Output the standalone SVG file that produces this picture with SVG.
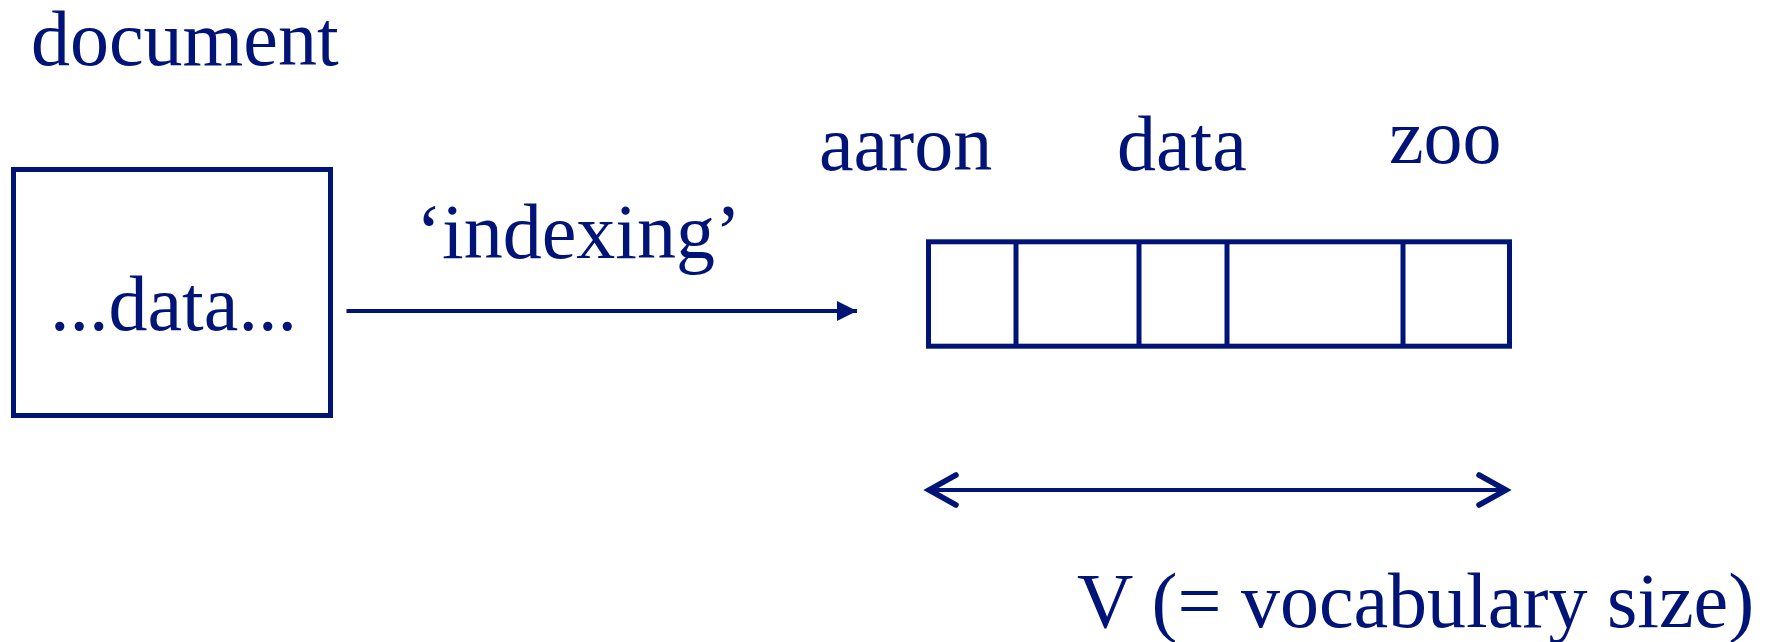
<svg xmlns="http://www.w3.org/2000/svg" width="1780" height="642" viewBox="0 0 1780 642">
  <style>
    .t { font-family: "Liberation Serif", "Times New Roman", serif; font-size: 78px; fill: #001478; }
    .box { fill: #ffffff; stroke: #001478; stroke-width: 5; }
    .ln { stroke: #001478; stroke-width: 4; fill: none; }
    .chev { stroke: #001478; stroke-width: 5.5; fill: none; stroke-linecap: round; stroke-linejoin: miter; }
  </style>
  <defs>
    <marker id="tri" markerUnits="userSpaceOnUse" markerWidth="20" markerHeight="20" refX="20" refY="10" orient="auto">
      <path d="M0,0 L20,10 L0,20 Z" fill="#001478"/>
    </marker>
  </defs>
  <rect width="1780" height="642" fill="#ffffff"/>

  <g id="document-label">
    <text class="t" x="31" y="65">document</text>
  </g>

  <g id="document">
    <rect class="box" x="13.5" y="169.5" width="317" height="246"/>
    <text class="t" x="50" y="330">...data...</text>
  </g>

  <g id="vocabulary-vector">
    <rect class="box" x="928.5" y="241.8" width="581" height="104.4"/>
    <line class="box" x1="1016" y1="241.8" x2="1016" y2="346.2"/>
    <line class="box" x1="1139" y1="241.8" x2="1139" y2="346.2"/>
    <line class="box" x1="1227" y1="241.8" x2="1227" y2="346.2"/>
    <line class="box" x1="1403" y1="241.8" x2="1403" y2="346.2"/>
  </g>

  <g id="word-labels">
    <text class="t" x="819" y="170">aaron</text>
    <text class="t" x="1117" y="170">data</text>
    <text class="t" x="1389" y="163">zoo</text>
  </g>

  <g id="size-label">
    <text class="t" x="1077" y="627">V (= vocabulary size)</text>
  </g>

  <g id="connectors">
    <line class="ln" x1="346.5" y1="311" x2="857" y2="311" marker-end="url(#tri)"/>
    <text class="t" x="416" y="258">‘indexing’</text>
    <line class="ln" x1="929" y1="490" x2="1506" y2="490"/>
    <polyline class="chev" points="956,475 929,490 956,505"/>
    <polyline class="chev" points="1479,475 1506,490 1479,505"/>
  </g>
</svg>
